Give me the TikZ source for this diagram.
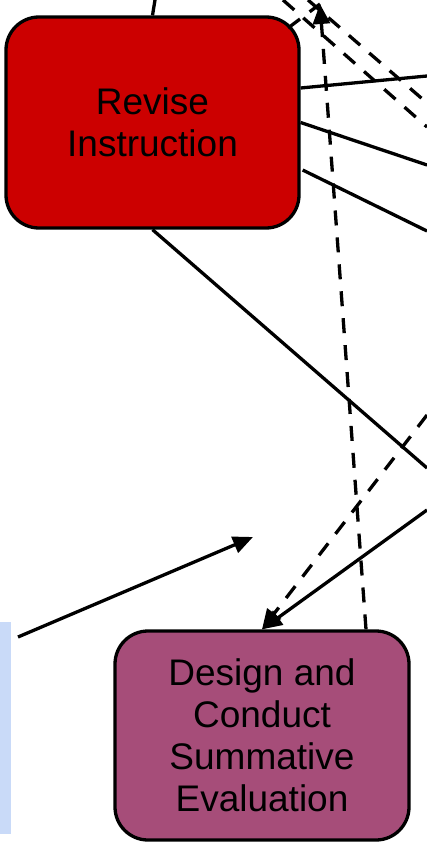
\documentclass[tikz,border=0pt]{standalone}
\usepackage{fontspec}
\setmainfont{Liberation Sans}
\usetikzlibrary{arrows.meta}
\definecolor{boxred}{HTML}{CC0000}
\definecolor{boxpurple}{HTML}{A64D79}
\definecolor{sideblue}{HTML}{C9DAF8}
\tikzset{
  stepbox/.style={draw=black, line width=3.3pt, rounded corners=33pt, align=center,
    font=\fontsize{37}{42}\selectfont, inner sep=0pt},
  conn/.style={line width=3.3pt, draw=black},
  dconn/.style={conn, dash pattern=on 15pt off 12pt},
  tip/.style={-{Triangle[length=20pt,width=17pt]}},
}
\begin{document}
\begin{tikzpicture}[x=1pt,y=-1pt]
\useasboundingbox (0,0) rectangle (427,853);
\fill[sideblue] (0,622) rectangle (11,834);
% nodes
\node[stepbox, fill=boxred, minimum width=293pt, minimum height=211pt] (rev) at (152.5,122.5) {Revise\\Instruction};
\node[stepbox, fill=boxpurple, minimum width=294pt, minimum height=209pt] (pur) at (262,735.5) {Design and\\Conduct\\Summative\\Evaluation};
% free ends
\coordinate (topA) at (155,0);
\coordinate (topT) at (320,4);
\coordinate (revc) at (288,28);
\coordinate (dA1) at (283,0);
\coordinate (dA2) at (427,127);
\coordinate (dB1) at (308,0);
\coordinate (dB2) at (427,103);
\coordinate (e1) at (427,76);
\coordinate (e2) at (427,165);
\coordinate (e3) at (427,231);
\coordinate (e4) at (427,468);
\coordinate (e5) at (427,415);
\coordinate (e6) at (427,510);
\coordinate (l1) at (18,637);
\coordinate (l2) at (253,537);
% connectors
\draw[conn] (topA) -- (rev.north);
\draw[dconn] (revc) -- (topT);
\draw[dconn] (dA1) -- (dA2);
\draw[dconn] (dB1) -- (dB2);
\draw[conn] ([yshift=34.5pt]rev.east) -- (e1);
\draw[conn] (rev.east) -- (e2);
\draw[conn] ([yshift=-47.5pt,xshift=2pt]rev.east) -- (e3);
\draw[conn] (rev.south) -- (e4);
\draw[dconn, tip] ([xshift=104pt]pur.north) -- (topT);
\draw[dconn, tip] (e5) -- (pur.north);
\draw[conn, tip] (e6) -- (pur.north);
\draw[conn, tip] (l1) -- (l2);
\end{tikzpicture}
\end{document}
